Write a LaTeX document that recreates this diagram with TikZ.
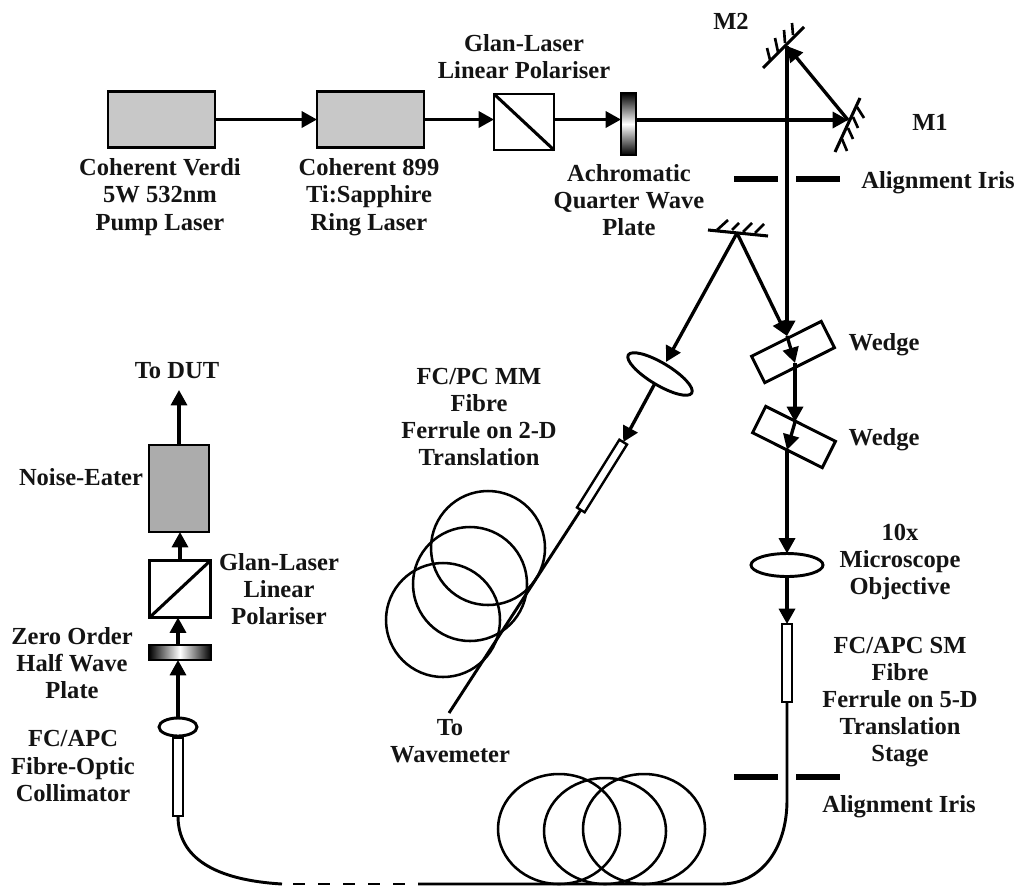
\documentclass[tikz,border=0pt]{standalone}
\usepackage{fontspec}
\setmainfont{Liberation Serif}
\usetikzlibrary{arrows.meta,shapes.geometric}
\tikzset{
  sz/.style 2 args={minimum width=#1*0.75pt,minimum height=#2*0.75pt,inner sep=0pt,outer sep=0pt},
  beam/.style={line width=2.5pt,-{Triangle[length=11.5pt,width=12pt]}},
  plainbeam/.style={line width=2.3pt},
  fibre/.style={line width=2.2pt},
  coil/.style={draw,line width=1.9pt,ellipse,inner sep=0pt,outer sep=0pt},
  optic/.style={draw,line width=2pt,fill=white},
  ferrule/.style={draw,line width=1.8pt,fill=white},
  laser/.style={draw,line width=2.2pt,fill=laserfill},
  plate/.style={draw,line width=1.5pt,rectangle},
  lensshape/.style={draw,line width=2.2pt,ellipse,fill=white,inner sep=0pt,outer sep=0pt},
  iris/.style={fill=black,rectangle,sz={44}{6}},
  hatch/.style={line width=2pt},
  lbl/.style={font=\bfseries\fontsize{18.4pt}{20.4pt}\selectfont,align=center,inner sep=0pt,text=labelcol},
}
\definecolor{laserfill}{HTML}{C8C8C8}
\definecolor{eaterfill}{HTML}{ACACAC}
\definecolor{labelcol}{HTML}{141414}
\begin{document}
\begin{tikzpicture}[x=0.75pt,y=-0.75pt]
\useasboundingbox (0,0) rectangle (1016,886);

% top row
\node[laser,sz={107}{56}] (verdi) at (161.5,119.5) {};
\node[laser,sz={107}{56}] (tisa) at (370.5,119.5) {};
\node[optic,sz={60}{56}] (pol1) at (524,122) {};
\draw[plainbeam] (pol1.north west) -- (pol1.south east);
\node[plate,sz={15}{62},top color=black,bottom color=black,middle color=white] (qwp) at (628.5,124) {};
\coordinate (m1) at (848,120);
\coordinate (m2) at (787,46);
\coordinate (pick) at (737,233);
\coordinate (wedgein) at (787,336);
\draw[beam] (verdi) -- (tisa.west |- verdi);
\draw[beam] (tisa) -- (pol1.west |- tisa);
\draw[beam] (pol1.east |- tisa) -- (qwp.west |- tisa);
\draw[beam] (qwp.east |- m1) -- (m1);
\draw[beam] (m1) -- (m2);

% mirrors
\draw[plainbeam] (835,152) -- (860,98);
\draw[hatch] (842,139) -- (847,151) (848,128) -- (853,139) (853,117) -- (858,128) (857,107) -- (864,118);
\draw[plainbeam] (763,68) -- (804,27);
\draw[hatch] (770,60) -- (767,48) (778,52) -- (775,38) (785,43) -- (784,30) (793,35) -- (792,23);
\draw[plainbeam] (708,230) -- (768,236);
\draw[hatch] (717,230) -- (728,220) (732,230) -- (739,223) (743,232) -- (752,223) (755,233) -- (764,224);

% right column
\node[iris] (iris1a) at (756,179) {};
\node[iris] (iris1b) at (818,179) {};
\node[iris] (iris2a) at (756,777) {};
\node[iris] (iris2b) at (818,777) {};
\node[draw,line width=2.2pt,rectangle,sz={78}{29.5},rotate=26.6] (wedge1) at (793,352) {};
\node[draw,line width=2.2pt,rectangle,sz={78}{29.5},rotate=-26.6] (wedge2) at (794,437) {};
\coordinate (w1out) at (795,363);
\coordinate (w2in) at (795,422);
\coordinate (w2out) at (787,450);
\draw[beam] (m2) -- (wedgein);
\draw[beam] (pick) -- (wedgein);
\draw[beam] (wedgein) -- (w1out);
\draw[beam] (w1out) -- (w2in);
\draw[beam] (w2in) -- (w2out);
\node[lensshape,sz={72}{23}] (objective) at (787,565) {};
\node[ferrule,sz={10}{78}] (smferrule) at (787,663) {};
\draw[beam] (w2out) -- (objective.north);
\draw[beam] (objective.south) -- (smferrule.north);

% MM branch
\node[lensshape,sz={74}{22},rotate=-31] (mmlens) at (660,374) {};
\node[ferrule,sz={80}{9},rotate=58] (mmferrule) at (602,476) {};
\coordinate (mmend) at (449,713);
\coordinate (mmtip) at (666,362);
\draw[beam] (pick) -- (mmtip);
\draw[beam] (mmlens) -- (mmferrule.east);
\draw[fibre] (mmferrule.west) -- (mmend);
\node[coil,sz={114}{114}] (mmcoil1) at (488,548) {};
\node[coil,sz={114}{114}] (mmcoil2) at (470,584) {};
\node[coil,sz={114}{114}] (mmcoil3) at (443,620) {};

% left column
\node[draw,line width=2.2pt,fill=eaterfill,sz={60}{87}] (eater) at (179,488.5) {};
\node[optic,sz={61}{57}] (pol2) at (180,589) {};
\draw[plainbeam] (pol2.south west) -- (pol2.north east);
\node[plate,sz={62}{15},left color=black,right color=black,middle color=white] (hwp) at (180,652.5) {};
\node[lensshape,sz={38}{18}] (colllens) at (178,727) {};
\node[ferrule,sz={10}{78}] (collferrule) at (178,777) {};
\coordinate (dut) at (179,390);
\draw[beam] (eater.north) -- (dut);
\draw[beam] (pol2.north) -- (pol2.north |- eater.south);
\draw[beam] (hwp.north -| colllens) -- (pol2.south -| colllens);
\draw[beam] (colllens.north) -- (colllens.north |- hwp.south);

% bottom fibre
\coordinate (fl) at (282,884);
\coordinate (fd1) at (293,884);
\coordinate (fd2) at (407,884);
\coordinate (fs) at (418,884);
\coordinate (fr) at (721,884);
\coordinate (fv) at (787,800);
\draw[fibre] (collferrule.south) .. controls (178,858) and (215,880) .. (fl);
\draw[fibre,dash pattern=on 9pt off 9.75pt] (fd1) -- (fd2);
\draw[fibre] (fs) -- (fr) .. controls (760,884) and (787,850) .. (fv) -- (smferrule.south);
\node[coil,sz={122}{110}] (smcoil1) at (559,829) {};
\node[coil,sz={122}{106}] (smcoil2) at (605,831) {};
\node[coil,sz={122}{110}] (smcoil3) at (644,829) {};

% labels
\node[lbl] (t1) at (160,197) {Coherent Verdi\\5W 532nm\\Pump Laser};
\node[lbl] (t2) at (369,197) {Coherent 899\\Ti:Sapphire\\Ring Laser};
\node[lbl] (t3) at (524,57) {Glan-Laser\\Linear Polariser};
\node[lbl] (t4) at (629,200) {Achromatic\\Quarter Wave\\Plate};
\node[lbl] (t5) at (731,21) {M2};
\node[lbl] (t6) at (930,122) {M1};
\node[lbl] (t7) at (938,183) {Alignment Iris};
\node[lbl] (t8) at (884,345) {Wedge};
\node[lbl] (t9) at (884,440) {Wedge};
\node[lbl] (t10) at (900,562) {10x\\Microscope\\Objective};
\node[lbl] (t11) at (900,702) {FC/APC SM\\Fibre\\Ferrule on 5-D\\Translation\\Stage};
\node[lbl] (t12) at (899,807) {Alignment Iris};
\node[lbl] (t13) at (479,417) {FC/PC MM\\Fibre\\Ferrule on 2-D\\Translation};
\node[lbl] (t14) at (450,741) {To\\Wavemeter};
\node[lbl] (t15) at (177,371) {To DUT};
\node[lbl] (t16) at (81,477) {Noise-Eater};
\node[lbl] (t17) at (279,589) {Glan-Laser\\Linear\\Polariser};
\node[lbl] (t18) at (72,663) {Zero Order\\Half Wave\\Plate};
\node[lbl] (t19) at (73,766) {FC/APC\\Fibre-Optic\\Collimator};
\end{tikzpicture}
\end{document}
